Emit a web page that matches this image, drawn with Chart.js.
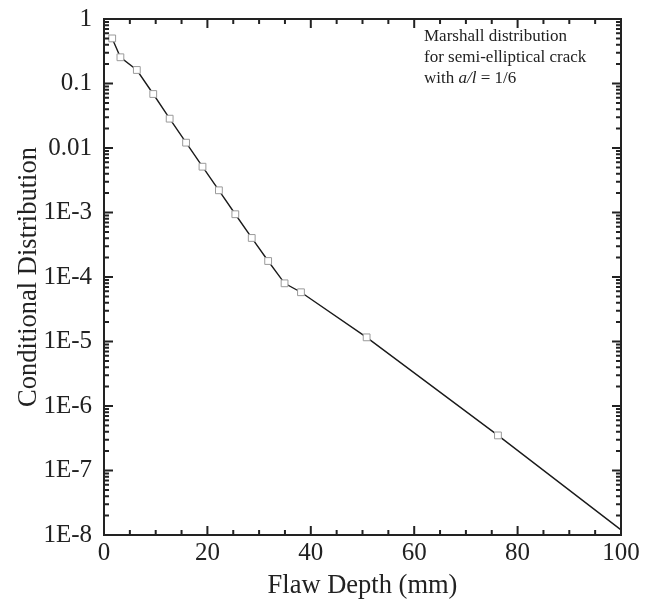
<!DOCTYPE html>
<html>
<head>
<meta charset="utf-8">
<title>Conditional Distribution vs Flaw Depth</title>
<script src="https://cdn.jsdelivr.net/npm/chart.js@4.4.1/dist/chart.umd.min.js"></script>
<style>
  html, body { margin: 0; padding: 0; background: #fff; }
  #wrap { width: 651px; height: 612px; }
</style>
</head>
<body>
<div id="wrap"><canvas id="flawChart" width="651" height="612"></canvas></div>
<script>
// flaw depth (mm) and Marshall conditional distribution values
const flawDepth = [1.5875, 3.175, 6.35, 9.525, 12.7, 15.875, 19.05, 22.225, 25.4, 28.575, 31.75, 34.925, 38.1, 50.8, 76.2, 100];
const conditionalDist = [0.50, 0.255, 0.162, 0.0687, 0.0285, 0.0121, 0.00513, 0.00221, 9.4e-4, 4.03e-4, 1.77e-4, 7.98e-5, 5.8e-5, 1.16e-5, 3.5e-7, 1.2e-8];
const hasMarker = [true, true, true, true, true, true, true, true, true, true, true, true, true, true, true, false];

const xTickValues = [0, 20, 40, 60, 80, 100];
const yTickValues = [1, 0.1, 0.01, 1e-3, 1e-4, 1e-5, 1e-6, 1e-7, 1e-8];
const yTickLabels = ['1', '0.1', '0.01', '1E-3', '1E-4', '1E-5', '1E-6', '1E-7', '1E-8'];

const serif = "'Liberation Serif', 'Times New Roman', serif";
const ink = '#222';

// frame on all four sides with inward ticks
const frameTicks = {
    id: 'frameTicks',
    afterDraw(chart) {
        const { ctx, chartArea: a, scales: { x, y } } = chart;
        const major = 9, minor = 5;
        ctx.save();
        ctx.strokeStyle = ink;
        ctx.lineWidth = 2;
        ctx.lineCap = 'butt';
        ctx.beginPath();
        // x ticks every 5 mm, long every 20
        for (let v = 0; v <= 100; v += 5) {
            const px = x.getPixelForValue(v);
            const len = v % 20 === 0 ? major : minor;
            ctx.moveTo(px, a.bottom); ctx.lineTo(px, a.bottom - len);
            ctx.moveTo(px, a.top); ctx.lineTo(px, a.top + len);
        }
        // log ticks: decades long, 2..9 short
        for (let e = -8; e <= 0; e++) {
            for (let m = 1; m <= 9; m++) {
                const v = m * Math.pow(10, e);
                if (v > 1.0000001) break;
                const py = y.getPixelForValue(v);
                const len = m === 1 ? major : minor;
                ctx.moveTo(a.left, py); ctx.lineTo(a.left + len, py);
                ctx.moveTo(a.right, py); ctx.lineTo(a.right - len, py);
            }
        }
        ctx.stroke();
        ctx.strokeRect(a.left, a.top, a.right - a.left, a.bottom - a.top);

        // annotation text
        ctx.fillStyle = ink;
        ctx.textBaseline = 'alphabetic';
        ctx.textAlign = 'left';
        const tx = 424;
        ctx.font = '17px ' + serif;
        ctx.fillText('Marshall distribution', tx, 41);
        ctx.fillText('for semi-elliptical crack', tx, 62);
        let cx = tx;
        ctx.fillText('with ', cx, 83);
        cx += ctx.measureText('with ').width;
        ctx.font = 'italic 17px ' + serif;
        ctx.fillText('a/l', cx, 83);
        cx += ctx.measureText('a/l').width;
        ctx.font = '17px ' + serif;
        ctx.fillText(' = 1/6', cx, 83);
        ctx.restore();
    }
};

const ctx = document.getElementById('flawChart').getContext('2d');
new Chart(ctx, {
    type: 'line',
    data: {
        datasets: [{
            data: flawDepth.map((d, i) => ({ x: d, y: conditionalDist[i] })),
            borderColor: '#1a1a1a',
            borderWidth: 1.4,
            tension: 0,
            pointStyle: 'rect',
            pointRadius: hasMarker.map(m => m ? 4.8 : 0),
            pointBorderColor: '#9a9a9a',
            pointBackgroundColor: '#fff',
            pointBorderWidth: 1
        }]
    },
    options: {
        responsive: false,
        animation: false,
        clip: false,
        layout: { padding: { left: 0, top: 19, right: 30, bottom: 0 } },
        plugins: { legend: { display: false }, tooltip: { enabled: false } },
        scales: {
            x: {
                type: 'linear',
                min: 0,
                max: 100,
                afterFit: s => { s.height = 77; s.paddingLeft = 0; s.paddingRight = 0; },
                afterBuildTicks: s => { s.ticks = xTickValues.map(v => ({ value: v })); },
                grid: { display: false, drawTicks: false },
                border: { display: false },
                ticks: { color: ink, padding: 3, maxRotation: 0, font: { family: serif, size: 25 } },
                title: {
                    display: true,
                    text: 'Flaw Depth (mm)',
                    color: ink,
                    font: { family: serif, size: 26.5 },
                    padding: { top: 0, bottom: 10 }
                }
            },
            y: {
                type: 'logarithmic',
                min: 1e-8,
                max: 1,
                afterFit: s => { s.width = 104; s.paddingTop = 0; s.paddingBottom = 0; },
                afterBuildTicks: s => { s.ticks = yTickValues.map(v => ({ value: v })); },
                grid: { display: false, drawTicks: false },
                border: { display: false },
                ticks: {
                    color: ink,
                    padding: 12,
                    font: { family: serif, size: 25 },
                    callback: (v, i) => yTickLabels[i]
                },
                title: {
                    display: true,
                    text: 'Conditional Distribution',
                    color: ink,
                    font: { family: serif, size: 26.5 },
                    padding: { top: 13, bottom: 0 }
                }
            }
        }
    },
    plugins: [frameTicks]
});
</script>
</body>
</html>
